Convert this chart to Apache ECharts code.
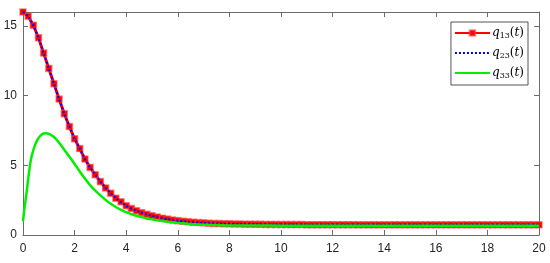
<!DOCTYPE html>
<html>
<head>
<meta charset="utf-8">
<script src="https://cdn.jsdelivr.net/npm/echarts@6/dist/echarts.min.js"></script>
<style>
  html, body { margin: 0; padding: 0; background: #fff; }
  #chart { width: 550px; height: 263px; }
</style>
</head>
<body>
<div id="chart"></div>
<script>
// time grid for q13 / q23 (markers every 0.2)
const tMain = [
  0, 0.2, 0.4, 0.6, 0.8, 1, 1.2, 1.4, 1.6, 1.8,
  2, 2.2, 2.4, 2.6, 2.8, 3, 3.2, 3.4, 3.6, 3.8,
  4, 4.2, 4.4, 4.6, 4.8, 5, 5.2, 5.4, 5.6, 5.8,
  6, 6.2, 6.4, 6.6, 6.8, 7, 7.2, 7.4, 7.6, 7.8,
  8, 8.2, 8.4, 8.6, 8.8, 9, 9.2, 9.4, 9.6, 9.8,
  10, 10.2, 10.4, 10.6, 10.8, 11, 11.2, 11.4, 11.6, 11.8,
  12, 12.2, 12.4, 12.6, 12.8, 13, 13.2, 13.4, 13.6, 13.8,
  14, 14.2, 14.4, 14.6, 14.8, 15, 15.2, 15.4, 15.6, 15.8,
  16, 16.2, 16.4, 16.6, 16.8, 17, 17.2, 17.4, 17.6, 17.8,
  18, 18.2, 18.4, 18.6, 18.8, 19, 19.2, 19.4, 19.6, 19.8,
  20
];

const q13 = [
  16.0, 15.7, 15.05, 14.15, 13.05, 11.95, 10.85, 9.75, 8.7, 7.78,
  6.9, 6.2, 5.45, 4.85, 4.32, 3.83, 3.38, 3.0, 2.64, 2.38,
  2.1, 1.9, 1.74, 1.6, 1.48, 1.38, 1.29, 1.21, 1.14, 1.08,
  1.03, 0.99, 0.95, 0.92, 0.89, 0.87, 0.85, 0.83, 0.82, 0.81,
  0.80, 0.79, 0.79, 0.78, 0.78, 0.77, 0.77, 0.76, 0.76, 0.76,
  0.75, 0.75, 0.75, 0.75, 0.75, 0.74, 0.74, 0.74, 0.74, 0.74,
  0.74, 0.74, 0.74, 0.74, 0.74, 0.73, 0.73, 0.73, 0.73, 0.73,
  0.73, 0.73, 0.73, 0.73, 0.73, 0.73, 0.73, 0.73, 0.73, 0.73,
  0.73, 0.73, 0.73, 0.73, 0.73, 0.73, 0.73, 0.73, 0.73, 0.73,
  0.73, 0.73, 0.73, 0.73, 0.73, 0.73, 0.73, 0.73, 0.73, 0.73,
  0.73
];

// q23 lies on top of q13
const q23 = q13.slice();

// q33 has its own (finer near the start) time grid
const tQ33 = [
  0, 0.05, 0.1, 0.15, 0.2, 0.3, 0.4, 0.5, 0.6, 0.7, 0.8, 0.9, 1,
  1.2, 1.4, 1.6, 1.8, 2, 2.2, 2.4, 2.6, 2.8, 3, 3.2, 3.4, 3.6, 3.8,
  4, 4.2, 4.4, 4.6, 4.8, 5, 5.2, 5.4, 5.6, 5.8, 6, 6.4, 6.8, 7.2, 7.6, 8,
  9, 10, 11, 12, 13, 14, 15, 16, 17, 18, 19, 20
];
const q33 = [
  1.0, 1.8, 2.5, 3.2, 4.0, 5.35, 6.1, 6.6, 6.95, 7.17, 7.28, 7.3, 7.25,
  7.03, 6.62, 6.12, 5.62, 5.1, 4.56, 4.05, 3.58, 3.18, 2.84, 2.52, 2.24, 2.01, 1.81,
  1.64, 1.5, 1.38, 1.28, 1.19, 1.12, 1.06, 1.0, 0.95, 0.91, 0.87, 0.81, 0.76, 0.73, 0.71, 0.69,
  0.68, 0.67, 0.67, 0.67, 0.67, 0.67, 0.67, 0.67, 0.67, 0.67, 0.67, 0.67
];

const xTicks = { min: 0, max: 20, interval: 2 };
const yTicks = { min: 0, max: 16, interval: 5 };

const pairs = (xs, ys) => xs.map((x, i) => [x, ys[i]]);

const axisColor = '#6b6b6b';
const labelFont = { color: '#262626', fontSize: 12, fontFamily: 'Liberation Sans, Arial, sans-serif' };

const legendRich = {
  i: { fontFamily: 'DejaVu Serif', fontStyle: 'italic', fontSize: 12, color: '#000' },
  s: { fontFamily: 'DejaVu Serif', fontSize: 8, color: '#000', padding: [6, 0, 0, 0] },
  r: { fontFamily: 'DejaVu Serif', fontSize: 12, color: '#000' }
};
const legendName = (sub) => `{i|q}{s|${sub}}{r|(}{i|t}{r|)}`;

const chart = echarts.init(document.getElementById('chart'), null, { renderer: 'canvas' });

const boxAxis = (extra) => Object.assign({
  type: 'value',
  axisLine: { show: true, onZero: false, lineStyle: { color: axisColor, width: 1 } },
  axisTick: { show: true, inside: true, length: 5, lineStyle: { color: axisColor } },
  splitLine: { show: false }
}, extra);

chart.setOption({
  animation: false,
  backgroundColor: '#fff',
  grid: { left: 23, right: 11, top: 12, bottom: 28, containLabel: false },
  legend: {
    orient: 'vertical',
    right: 22,
    top: 22,
    itemWidth: 35,
    itemHeight: 7,
    itemGap: 7,
    padding: [5, 4, 5, 3],
    backgroundColor: '#fff',
    borderColor: '#555',
    borderWidth: 1,
    borderRadius: 0,
    textStyle: { rich: legendRich, padding: [0, 0, 0, -3] },
    formatter: (name) => legendName(name.slice(1)),
    data: [
      { name: 'q13' },
      { name: 'q23', itemStyle: { opacity: 0 } },
      { name: 'q33', itemStyle: { opacity: 0 } }
    ]
  },
  xAxis: [
    boxAxis(Object.assign({ position: 'bottom', axisLabel: Object.assign({ margin: 8 }, labelFont) }, xTicks)),
    boxAxis(Object.assign({ position: 'top', axisLabel: { show: false } }, xTicks))
  ],
  yAxis: [
    boxAxis(Object.assign({ position: 'left', axisLabel: Object.assign({ margin: 6, showMaxLabel: false }, labelFont) }, yTicks)),
    boxAxis(Object.assign({ position: 'right', axisLabel: { show: false } }, yTicks))
  ],
  series: [
    {
      name: 'q13',
      type: 'line',
      data: pairs(tMain, q13),
      symbol: 'rect',
      symbolSize: 6,
      showAllSymbol: true,
      itemStyle: { color: '#ff0000', borderColor: 'rgba(255,60,60,0.55)', borderWidth: 1.5 },
      lineStyle: { color: '#ff0000', width: 3 },
      z: 2
    },
    {
      name: 'q23',
      type: 'line',
      data: pairs(tMain, q23),
      showSymbol: false,
      symbol: 'none',
      lineStyle: { color: '#0000ff', width: 2, type: [2, 2] },
      itemStyle: { color: '#0000ff' },
      z: 3
    },
    {
      name: 'q33',
      type: 'line',
      data: pairs(tQ33, q33),
      showSymbol: false,
      symbol: 'none',
      smooth: 0.3,
      lineStyle: { color: '#00ee00', width: 2.5 },
      itemStyle: { color: '#00ee00' },
      z: 4
    }
  ]
});
</script>
</body>
</html>
